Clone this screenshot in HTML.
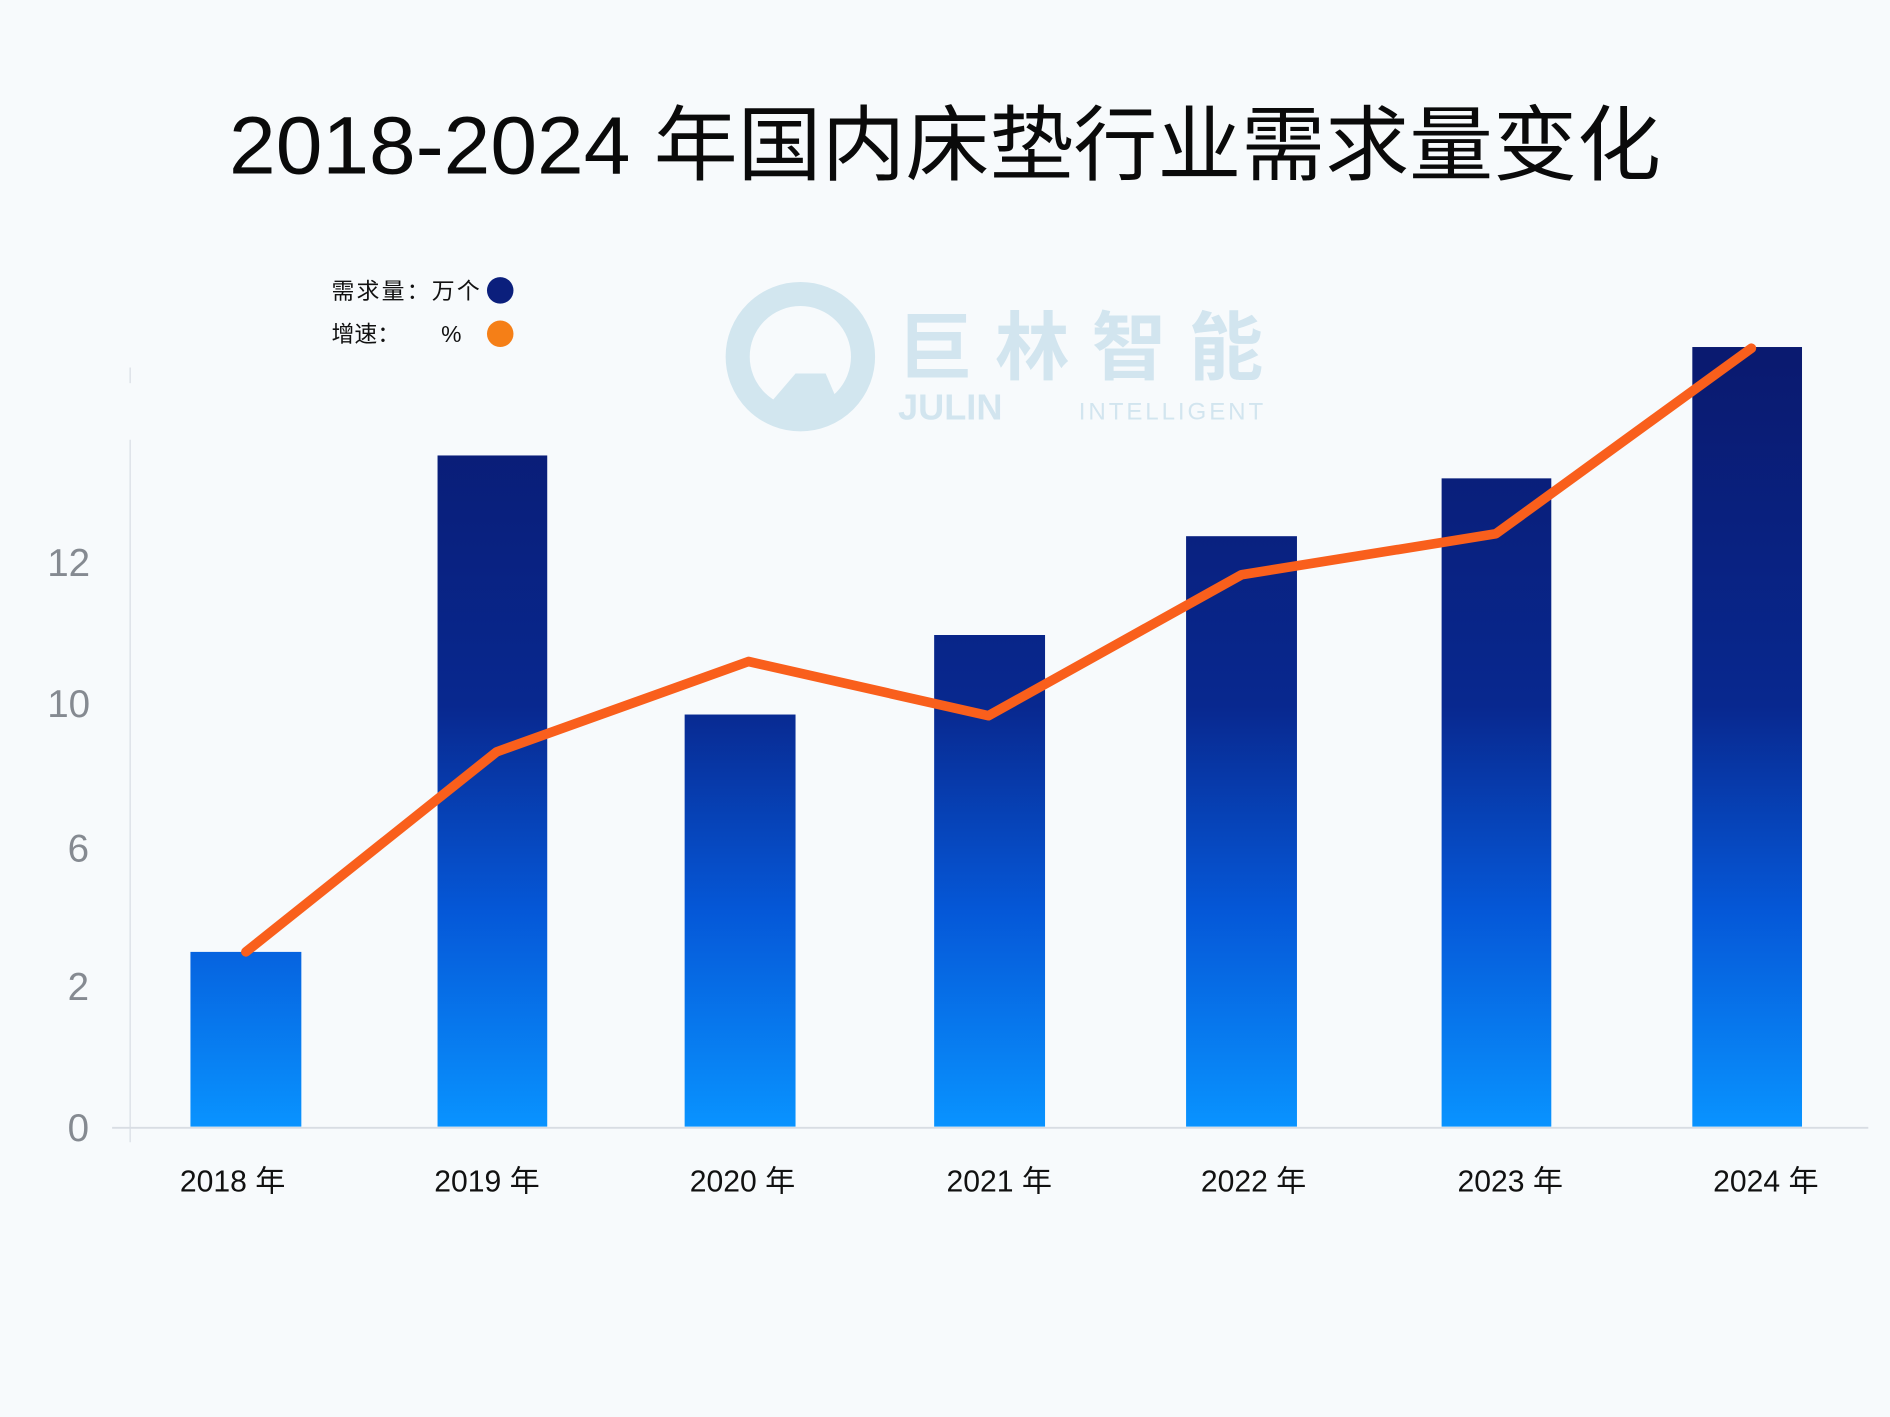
<!DOCTYPE html>
<html><head><meta charset="utf-8"><style>
html,body{margin:0;padding:0;background:#f7fafc;}
svg{display:block;}
text{font-family:"Liberation Sans","Noto Sans CJK SC",sans-serif;}
</style></head><body>
<svg width="1890" height="1417" viewBox="0 0 1568 1176" preserveAspectRatio="none" xmlns="http://www.w3.org/2000/svg">
<defs>
<linearGradient id="g" gradientUnits="userSpaceOnUse" x1="0" y1="300" x2="0" y2="935">
<stop offset="0" stop-color="#0a1a70"/>
<stop offset="0.45" stop-color="#08288f"/>
<stop offset="0.72" stop-color="#0558d8"/>
<stop offset="1" stop-color="#0993ff"/>
</linearGradient>
</defs>
<rect width="1568" height="1176" fill="#f7fafc"/>
<text x="190" y="144" font-size="68" fill="#0a0a0a" textLength="1188" lengthAdjust="spacingAndGlyphs">2018-2024 年国内床垫行业需求量变化</text>
<!-- watermark -->
<g opacity="0.9">
<circle cx="664" cy="296" r="52" fill="none" stroke="#cfe4ee" stroke-width="20"/>
<polygon points="630,345 660,310 685,310 700,345" fill="#cfe4ee"/>
<text x="745" y="310" font-size="62" font-weight="bold" fill="#cfe3ee" textLength="303">巨林智能</text>
<text x="745" y="348" font-size="30" font-weight="bold" fill="#cfe3ee">JULIN</text>
<text x="895" y="348" font-size="20" fill="#cfe3ee" textLength="153">INTELLIGENT</text>
</g>
<!-- legend -->
<text x="275" y="248" font-size="19" fill="#111" textLength="123">需求量：万个</text>
<circle cx="415" cy="241" r="11" fill="#0b1f7c"/>
<text x="275" y="284" font-size="19" fill="#111">增速：</text>
<text x="366" y="284" font-size="19" fill="#111">%</text>
<circle cx="415" cy="277" r="11" fill="#f57f17"/>
<!-- axes -->
<line x1="108" y1="305" x2="108" y2="318" stroke="#dde2e8" stroke-width="1.2"/>
<line x1="108" y1="365" x2="108" y2="948" stroke="#dde2e8" stroke-width="1.2"/>
<line x1="93" y1="936" x2="1550" y2="936" stroke="#d8dde3" stroke-width="1.5"/>
<g fill="#858a91" font-size="32" text-anchor="middle">
<text x="57" y="478">12</text>
<text x="57" y="595">10</text>
<text x="65" y="715">6</text>
<text x="65" y="830">2</text>
<text x="65" y="947">0</text>
</g>
<!-- bars -->
<g fill="url(#g)">
<rect x="158" y="790" width="92" height="145"/>
<rect x="363" y="378" width="91" height="557"/>
<rect x="568" y="593" width="92" height="342"/>
<rect x="775" y="527" width="92" height="408"/>
<rect x="984" y="445" width="92" height="490"/>
<rect x="1196" y="397" width="91" height="538"/>
<rect x="1404" y="288" width="91" height="647"/>
</g>
<polyline points="204,790 412,624 621,549 820,594 1030,477 1241,443 1453,289" fill="none" stroke="#f95f1c" stroke-width="8" stroke-linejoin="round" stroke-linecap="round"/>
<g font-size="25" fill="#111" text-anchor="middle">
<text x="193" y="989">2018 年</text>
<text x="404" y="989">2019 年</text>
<text x="616" y="989">2020 年</text>
<text x="829" y="989">2021 年</text>
<text x="1040" y="989">2022 年</text>
<text x="1253" y="989">2023 年</text>
<text x="1465" y="989">2024 年</text>
</g>
</svg>
</body></html>
